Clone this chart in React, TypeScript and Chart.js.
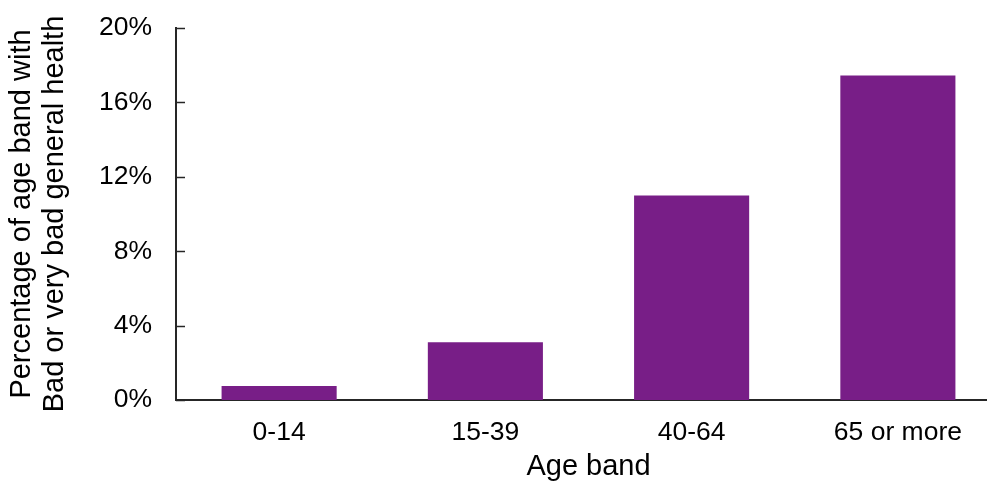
import React, { useEffect, useRef } from "react";
import { Chart, registerables } from "chart.js";

Chart.register(...registerables);

const categories = ["0-14", "15-39", "40-64", "65 or more"];
const values = [0.75, 3.1, 11.0, 17.45];
const yTickMax = 20;
const yTickStep = 4;
const yTitle = ["Percentage of age band with", "Bad or very bad general health"];
const xTitle = "Age band";

const FONT = "'Liberation Sans', Arial, sans-serif";

const innerTicks = {
  id: "innerTicks",
  afterDraw(chart: any) {
    const y = chart.scales.y;
    const ctx = chart.ctx;
    ctx.save();
    ctx.strokeStyle = "#262626";
    ctx.lineWidth = 1.5;
    y.ticks.forEach((t: any) => {
      const py = Math.round(y.getPixelForValue(t.value)) + 0.5;
      ctx.beginPath();
      ctx.moveTo(chart.chartArea.left, py);
      ctx.lineTo(chart.chartArea.left + 9, py);
      ctx.stroke();
    });
    ctx.restore();
  },
};

export default function App() {
  const ref = useRef<HTMLCanvasElement | null>(null);
  useEffect(() => {
    if (!ref.current) return;
    const chart = new Chart(ref.current, {
      type: "bar",
      data: {
        labels: categories,
        datasets: [
          {
            data: values,
            backgroundColor: "#781e87",
            borderWidth: 0,
            barPercentage: 0.558,
            categoryPercentage: 1,
          },
        ],
      },
      plugins: [innerTicks],
      options: {
        animation: false,
        responsive: false,
        maintainAspectRatio: false,
        layout: { padding: { top: 28, left: 0, right: 0, bottom: 0 } },
        plugins: { legend: { display: false }, tooltip: { enabled: false } },
        scales: {
          x: {
            offset: true,
            grid: { display: false, drawTicks: false },
            border: { display: true, color: "#262626", width: 2 },
            ticks: { color: "#000", font: { family: FONT, size: 26.5 }, padding: 17, maxRotation: 0 },
            title: {
              display: true,
              text: xTitle,
              color: "#000",
              font: { family: FONT, size: 29, lineHeight: 1.2 },
              padding: { top: 0, bottom: 0 },
            },
            afterFit: (s: any) => {
              s.height = 84;
            },
          },
          y: {
            min: 0,
            max: yTickMax,
            grid: { display: false, drawTicks: true, tickLength: 24 },
            border: { display: true, color: "#262626", width: 2 },
            ticks: {
              stepSize: yTickStep,
              color: "#000",
              font: { family: FONT, size: 26.5 },
              padding: 0,
              callback: (v: any) => v + "%",
            },
            title: {
              display: true,
              text: yTitle,
              color: "#000",
              font: { family: FONT, size: 29, lineHeight: 1.14 },
              padding: { top: 5, bottom: 0 },
            },
            afterFit: (s: any) => {
              s.width = 176;
            },
          },
        },
      },
    });
    return () => chart.destroy();
  }, []);
  return (
    <div style={{ position: "fixed", left: 0, top: 0, width: "100vw", height: "100vh", overflow: "hidden", background: "#fff" }}>
      <canvas ref={ref} width={1001} height={484} style={{ display: "block", width: 1001, height: 484 }} />
    </div>
  );
}
